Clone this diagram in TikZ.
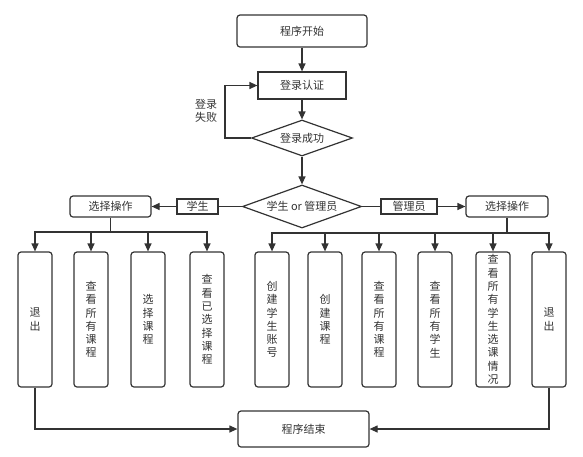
\documentclass[tikz,border=0pt]{standalone}
\usepackage{fontspec}
\setmainfont{Noto Sans CJK SC}
\usetikzlibrary{shapes.geometric,arrows.meta}
\definecolor{linec}{HTML}{333333}
\begin{document}
\begin{tikzpicture}[x=1pt, y=-1pt, color=linec,
    every path/.style={line width=1.2pt},
    base/.style={draw=linec, text=linec, inner sep=0pt, font=\fontsize{11}{13.3}\selectfont},
    roundbox/.style={base, rounded corners=3pt},
    sqbox/.style={base},
    tallbox/.style={base, rounded corners=3pt, minimum width=34pt, minimum height=135pt, align=center},
    decision/.style={base, diamond, aspect=2.8},
    arrow/.style={-{Triangle[length=8pt, width=7pt]}}]

            \useasboundingbox (0,0) rectangle (583,456);

            % Nodes
            \node[roundbox, minimum width=130pt, minimum height=32pt] at (302,31) (start) {程序开始};
            \node[sqbox, minimum width=88pt, minimum height=27pt] at (302,85.5) (login) {登录认证};
            \node[decision, minimum width=101pt, minimum height=36pt] at (302,138) (loginok) {登录成功};
            \node[decision, minimum width=119pt, minimum height=43pt] at (302,206.5) (role) {学生 or 管理员};

            \node[sqbox, minimum width=41pt, minimum height=15pt] at (197.5,206.5) (stu) {学生};
            \node[roundbox, minimum width=81pt, minimum height=21pt] at (110.5,206.5) (chooseS) {选择操作};
            \node[sqbox, minimum width=56pt, minimum height=15pt] at (409,206.5) (adm) {管理员};
            \node[roundbox, minimum width=82pt, minimum height=21pt] at (507,206.5) (chooseA) {选择操作};

            \node[tallbox] at (35,319.5) (quitS) {退\\出};
            \node[tallbox] at (91,319.5) (viewallS) {查\\看\\所\\有\\课\\程};
            \node[tallbox] at (148,319.5) (pickS) {选\\择\\课\\程};
            \node[tallbox] at (207,319.5) (viewpickS) {查\\看\\已\\选\\择\\课\\程};

            \node[tallbox] at (272,319.5) (newstu) {创\\建\\学\\生\\账\\号};
            \node[tallbox] at (325,319.5) (newcourse) {创\\建\\课\\程};
            \node[tallbox] at (379,319.5) (viewallA) {查\\看\\所\\有\\课\\程};
            \node[tallbox] at (435,319.5) (viewstu) {查\\看\\所\\有\\学\\生};
            \node[tallbox] at (493,319.5) (viewsel) {查\\看\\所\\有\\学\\生\\选\\课\\情\\况};
            \node[tallbox] at (549,319.5) (quitA) {退\\出};

            \node[roundbox, minimum width=131pt, minimum height=36pt] at (303.5,429) (finish) {程序结束};

            \coordinate (failturn) at (225,138);
            \coordinate (sbus) at (110.5,232);
            \coordinate (abus) at (507,233);

            % Lines
            \draw[arrow] (start) -- (login);
            \draw[arrow] (login) -- (loginok);
            \draw[arrow] (loginok.west) -- (failturn) |- (login.west);
            \draw[arrow] (loginok) -- (role);

            \draw (role.west) -- (stu);
            \draw[arrow] (stu) -- (chooseS);
            \draw (role.east) -- (adm);
            \draw[arrow] (adm) -- (chooseA);

            \draw (chooseS) -- (sbus);
            \foreach \b in {quitS, viewallS, pickS, viewpickS}
                \draw[arrow] (sbus) -| (\b.north);

            \draw (chooseA) -- (abus);
            \foreach \b in {newstu, newcourse, viewallA, viewstu, viewsel, quitA}
                \draw[arrow] (abus) -| (\b.north);

            \draw[arrow] (quitS.south) |- (finish.west);
            \draw[arrow] (quitA.south) |- (finish.east);

            % Labels
            \node[base, draw=none, align=center] at (206,111) (fail) {登录\\失败};

\end{tikzpicture}
\end{document}
